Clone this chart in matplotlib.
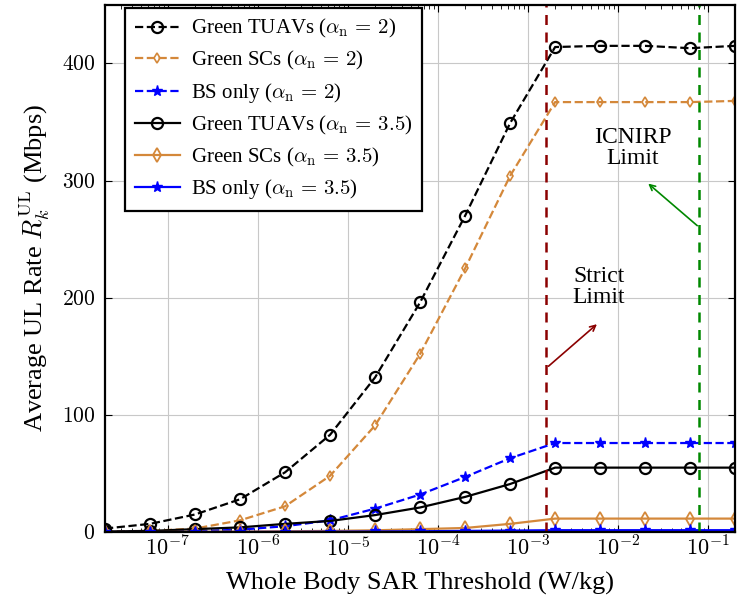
import numpy as np
import matplotlib
matplotlib.use("Agg")
import matplotlib.pyplot as plt
from matplotlib.ticker import FuncFormatter

plt.rcParams["font.family"] = ["Liberation Serif", "DejaVu Serif"]
plt.rcParams["mathtext.fontset"] = "cm"

# ── Data ──────────────────────────────────────────────────────
sar = [2e-8, 6.32e-8, 2e-7, 6.32e-7, 2e-6, 6.32e-6, 2e-5, 6.32e-5,
       2e-4, 6.32e-4, 2e-3, 6.32e-3, 2e-2, 6.32e-2, 2e-1]

tuav_a2  = [3, 7, 15, 28, 51, 83, 132, 196, 270, 349, 414, 415, 415, 413, 415]
sc_a2    = [0.5, 1, 3, 10, 22, 48, 91, 152, 225, 304, 367, 367, 367, 367, 368]
bs_a2    = [0, 0.3, 0.8, 2, 5, 10, 20, 32, 47, 63, 76, 76, 76, 76, 76]
tuav_a35 = [0.5, 1, 2.5, 4, 7, 9.5, 14.5, 21, 30, 41, 55, 55, 55, 55, 55]
sc_a35   = [0, 0, 0.2, 0.4, 0.7, 1, 1.5, 2.5, 3.5, 7, 11.5, 11.5, 11.5, 11.5, 11.5]
bs_a35   = [0, 0, 0, 0.1, 0.2, 0.3, 0.5, 0.7, 1, 1.3, 1.6, 1.6, 1.6, 1.6, 1.6]

strict_limit = 1.6e-3
icnirp_limit = 0.08

orange = "#D4883A"

fig = plt.figure(figsize=(7.37, 6.06), dpi=100)
ax = fig.add_axes([0.1425, 0.122, 0.855, 0.870])

ax.plot(sar, tuav_a2, "k--", marker="o", mfc="none", ms=8, mew=1.6, lw=1.6,
        label=r"Green TUAVs ($\alpha_{\mathrm{n}}\,=\,2$)")
ax.plot(sar, sc_a2, "--", color=orange, marker="d", mfc="none", ms=5, mew=1.2, lw=1.6,
        label=r"Green SCs ($\alpha_{\mathrm{n}}\,=\,2$)")
ax.plot(sar, bs_a2, "--", color="blue", marker="*", ms=8, lw=1.6,
        label=r"BS only ($\alpha_{\mathrm{n}}\,=\,2$)")
ax.plot(sar, tuav_a35, "k-", marker="o", mfc="none", ms=8, mew=1.6, lw=1.6,
        label=r"Green TUAVs ($\alpha_{\mathrm{n}}\,=\,3.5$)")
ax.plot(sar, sc_a35, "-", color=orange, marker="d", mfc="none", ms=7, mew=1.3, lw=1.6,
        label=r"Green SCs ($\alpha_{\mathrm{n}}\,=\,3.5$)")
ax.plot(sar, bs_a35, "-", color="blue", marker="*", ms=8, lw=1.6,
        label=r"BS only ($\alpha_{\mathrm{n}}\,=\,3.5$)")

# limit lines
ax.axvline(strict_limit, color="#8B0000", ls=(0, (4, 3)), lw=1.8)
ax.axvline(icnirp_limit, color="#008800", ls=(0, (4, 3)), lw=1.8)

ax.annotate("", xy=(0.0205, 299), xytext=(icnirp_limit, 260),
            arrowprops=dict(arrowstyle="->", color="#008800", lw=1.2))
ax.text(0.0147, 328, "ICNIRP\nLimit", ha="center", va="center", fontsize=17,
        linespacing=1.0)
ax.annotate("", xy=(6.15e-3, 179), xytext=(strict_limit, 140),
            arrowprops=dict(arrowstyle="->", color="#8B0000", lw=1.2))
ax.text(6.15e-3, 209, "Strict\nLimit", ha="center", va="center", fontsize=17,
        linespacing=1.0)

ax.set_xscale("log")
ax.set_xlim(2e-8, 0.2)
ax.set_ylim(0, 450)
ax.set_yticks([0, 100, 200, 300, 400])
ax.set_xticks([1e-7, 1e-6, 1e-5, 1e-4, 1e-3, 1e-2, 1e-1])
ax.yaxis.set_major_formatter(FuncFormatter(lambda v, p: f"${v:g}$"))
ax.xaxis.set_major_formatter(FuncFormatter(lambda v, p: f"$10^{{{int(round(np.log10(v)))}}}$"))

ax.grid(True, which="major", color="#c8c8c8", lw=0.8)
ax.tick_params(which="both", direction="in", top=True, right=True, labelsize=16)
ax.tick_params(axis="y", labelsize=15.5, pad=7)
ax.tick_params(which="major", length=5)
ax.tick_params(which="minor", length=3)
for s in ax.spines.values():
    s.set_linewidth(1.6)

ax.set_xlabel("Whole Body SAR Threshold (W/kg)", fontsize=19, labelpad=8)
ax.set_ylabel(r"Average UL Rate $R_k^{\mathrm{UL}}$ (Mbps)", fontsize=19, labelpad=7)

leg = ax.legend(loc="upper left", bbox_to_anchor=(0.032, 0.994), borderaxespad=0,
                fontsize=15, fancybox=False, edgecolor="black", framealpha=1,
                handlelength=2.2, handletextpad=0.5, borderpad=0.45,
                labelspacing=0.42)
leg.get_frame().set_linewidth(1.6)

fig.savefig("out.png", dpi=100)
